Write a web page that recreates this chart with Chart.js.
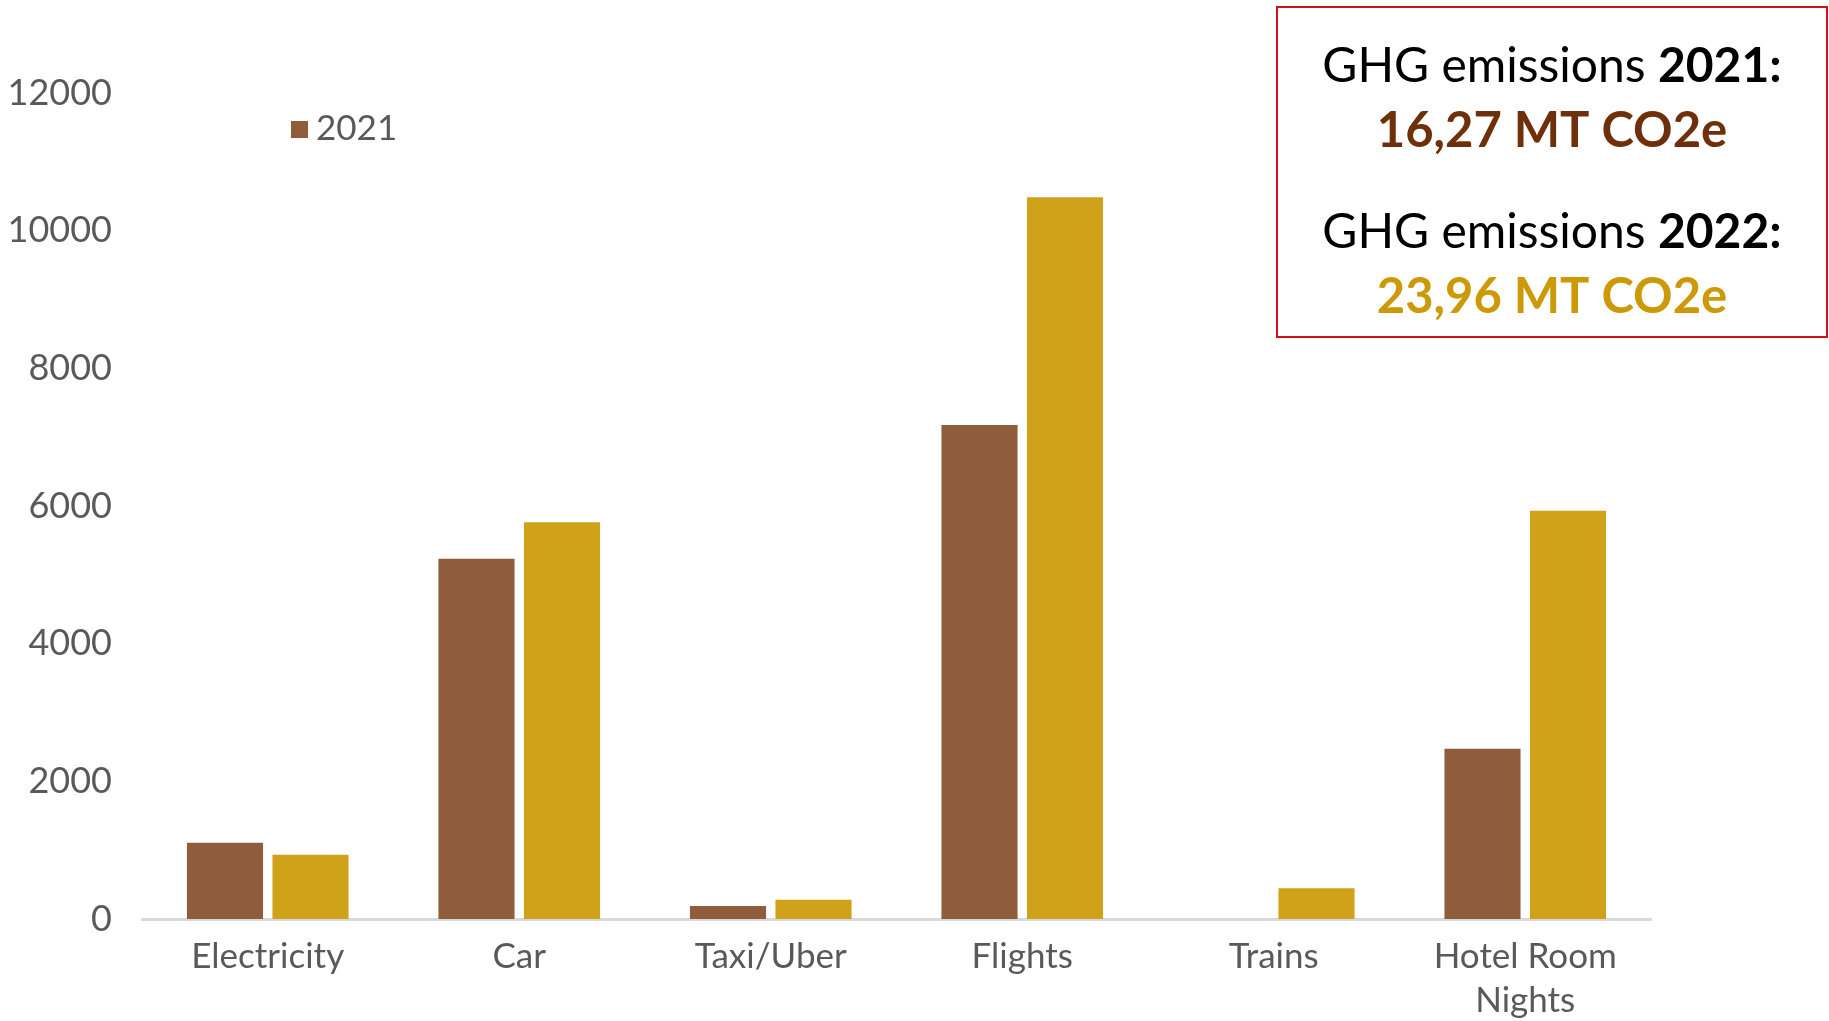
<!DOCTYPE html>
<html>
<head>
<meta charset="utf-8">
<script src="https://cdn.jsdelivr.net/npm/chart.js@4.4.1/dist/chart.umd.min.js"></script>
<style>
  html, body { margin: 0; padding: 0; background: #ffffff; }
  #wrap { width: 1829px; height: 1021px; }
</style>
</head>
<body>
<div id="wrap"><canvas id="c" width="1829" height="1021"></canvas></div>
<script>
// ---- data ----
const categories = ["Electricity", "Car", "Taxi/Uber", "Flights", "Trains", ["Hotel Room", "Nights"]];
const seriesNames = ["2021", "2022"];
const values2021 = [1108, 5234, 189, 7177, 0, 2474];
const values2022 = [934, 5763, 281, 10485, 446, 5932];
const yTicks = [0, 2000, 4000, 6000, 8000, 10000, 12000];
const summaryPrefix = ["GHG emissions ", "GHG emissions "];
const summaryYears = ["2021:", "2022:"];
const summaryValues = ["16,27 MT CO2e", "23,96 MT CO2e"];

// ---- styles ----
const colors = ["#8F5C3C", "#CFA219"];
const valueColors = ["#6E300A", "#CC9A06"];
const FONT = "Lato, 'Open Sans', sans-serif";
const GRAY = "#595959";

const summaryBox = {
  id: "summaryBox",
  afterDraw(chart) {
    const ctx = chart.ctx;
    ctx.save();
    ctx.strokeStyle = "#D0121B";
    ctx.lineWidth = 2;
    ctx.strokeRect(1277, 7, 550, 330);
    const cx = 1552;
    const baselines = [[82, 147], [248, 313]];
    ctx.textBaseline = "alphabetic";
    for (let i = 0; i < 2; i++) {
      const fNorm = "400 48px " + FONT;
      const fBold = "700 48px " + FONT;
      ctx.font = fNorm;
      const w1 = ctx.measureText(summaryPrefix[i]).width;
      ctx.font = fBold;
      const w2 = ctx.measureText(summaryYears[i]).width;
      const x0 = cx - (w1 + w2) / 2;
      ctx.textAlign = "left";
      ctx.fillStyle = "#000000";
      ctx.font = fNorm;
      ctx.fillText(summaryPrefix[i], x0, baselines[i][0]);
      ctx.font = fBold;
      ctx.fillText(summaryYears[i], x0 + w1, baselines[i][0]);
      ctx.textAlign = "center";
      ctx.font = "700 49px " + FONT;
      ctx.fillStyle = valueColors[i];
      ctx.fillText(summaryValues[i], cx, baselines[i][1]);
    }
    ctx.restore();
  }
};

const customLegend = {
  id: "customLegend",
  afterDraw(chart) {
    const ctx = chart.ctx;
    const ds = chart.data.datasets[0];
    ctx.save();
    ctx.fillStyle = ds.backgroundColor;
    ctx.fillRect(291, 121, 17, 17);
    ctx.fillStyle = GRAY;
    ctx.font = "400 35px " + FONT;
    ctx.textAlign = "left";
    ctx.textBaseline = "middle";
    ctx.fillText(ds.label, 316, 129);
    ctx.restore();
  }
};

new Chart(document.getElementById("c"), {
  type: "bar",
  data: {
    labels: categories,
    datasets: [
      { label: seriesNames[0], data: values2021, backgroundColor: colors[0] },
      { label: seriesNames[1], data: values2022, backgroundColor: colors[1] }
    ]
  },
  options: {
    responsive: false,
    animation: false,
    devicePixelRatio: 1,
    categoryPercentage: 0.68,
    barPercentage: 0.89,
    layout: { padding: { left: 0, right: 178, top: 93, bottom: 0 } },
    plugins: {
      legend: { display: false },
      tooltip: { enabled: false }
    },
    scales: {
      x: {
        grid: { display: false, drawTicks: false },
        border: { display: true, color: "#D9D9D9", width: 3 },
        ticks: {
          color: GRAY,
          font: { family: FONT, size: 35, lineHeight: 1.26 },
          padding: 16,
          maxRotation: 0,
          autoSkip: false
        },
        afterFit(scale) { scale.height = 102; }
      },
      y: {
        min: 0,
        max: 12000,
        afterBuildTicks(scale) { scale.ticks = yTicks.map(v => ({ value: v })); },
        grid: { display: false, drawTicks: false },
        border: { display: false },
        ticks: {
          color: GRAY,
          font: { family: FONT, size: 36 },
          padding: 30,
          callback: (v) => String(v)
        },
        afterFit(scale) { scale.width = 142; }
      }
    }
  },
  plugins: [summaryBox, customLegend]
});
</script>
</body>
</html>
